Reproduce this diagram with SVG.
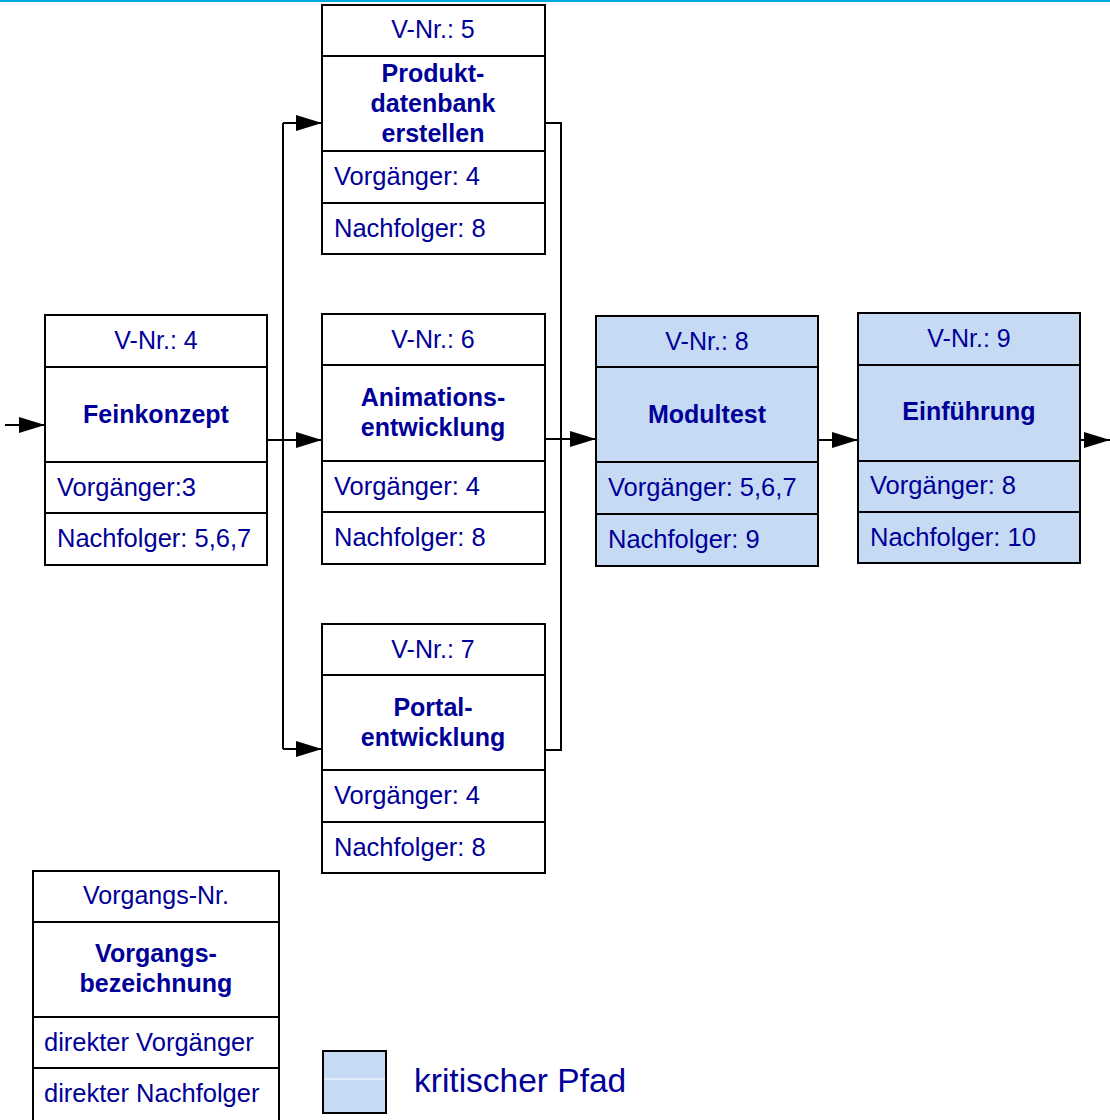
<svg xmlns="http://www.w3.org/2000/svg" width="1110" height="1120" viewBox="0 0 1110 1120">
  <style>
    .box { fill: #ffffff; stroke: #000000; stroke-width: 2; }
    .crit { fill: #c6daf4; stroke: #000000; stroke-width: 2; }
    .sep { stroke: #000000; stroke-width: 2; }
    .hd { font-family: "Liberation Sans", Arial, sans-serif; font-size: 25px; fill: #000099; text-anchor: middle; }
    .ttl { font-family: "Liberation Sans", Arial, sans-serif; font-size: 25px; font-weight: bold; fill: #000099; text-anchor: middle; }
    .row { font-family: "Liberation Sans", Arial, sans-serif; font-size: 25.5px; fill: #000099; }
    .wire { fill: none; stroke: #000000; stroke-width: 2; }
    .arr { fill: none; stroke: #000000; stroke-width: 2; marker-end: url(#tip); }
  </style>
  <defs>
    <marker id="tip" markerUnits="userSpaceOnUse" markerWidth="26" markerHeight="16" refX="26" refY="8" orient="auto">
      <path d="M0,0 L26,8 L0,16 Z" fill="#000000"/>
    </marker>
  </defs>

  <!-- top rule -->
  <line x1="0" y1="1" x2="1110" y2="1" stroke="#00a8e0" stroke-width="2"/>

  <!-- connectors -->
  <g id="connectors">
    <line class="arr" x1="5" y1="425" x2="45" y2="425"/>
    <line class="wire" x1="267" y1="440" x2="283" y2="440"/>
    <line class="wire" x1="283" y1="123" x2="283" y2="749"/>
    <line class="arr" x1="283" y1="123" x2="322" y2="123"/>
    <line class="arr" x1="283" y1="440" x2="322" y2="440"/>
    <line class="arr" x1="283" y1="749" x2="322" y2="749"/>
    <polyline class="wire" points="545,123 561,123 561,750 545,750"/>
    <line class="arr" x1="545" y1="439" x2="596" y2="439"/>
    <line class="arr" x1="818" y1="440" x2="858" y2="440"/>
    <line class="arr" x1="1080" y1="440" x2="1110" y2="440"/>
  </g>

  <!-- V-Nr. 4 -->
  <g id="node4">
    <rect class="box" x="45" y="315" width="222" height="250"/>
    <line class="sep" x1="45" y1="367" x2="267" y2="367"/>
    <line class="sep" x1="45" y1="462" x2="267" y2="462"/>
    <line class="sep" x1="45" y1="513" x2="267" y2="513"/>
    <text class="hd" x="156" y="349">V-Nr.: 4</text>
    <text class="ttl" x="156" y="423">Feinkonzept</text>
    <text class="row" x="57" y="496">Vorgänger:3</text>
    <text class="row" x="57" y="547">Nachfolger: 5,6,7</text>
  </g>

  <!-- V-Nr. 5 -->
  <g id="node5">
    <rect class="box" x="322" y="5" width="223" height="249"/>
    <line class="sep" x1="322" y1="56" x2="545" y2="56"/>
    <line class="sep" x1="322" y1="151" x2="545" y2="151"/>
    <line class="sep" x1="322" y1="203" x2="545" y2="203"/>
    <text class="hd" x="433" y="38">V-Nr.: 5</text>
    <text class="ttl" x="433" y="82">Produkt-</text>
    <text class="ttl" x="433" y="112">datenbank</text>
    <text class="ttl" x="433" y="142">erstellen</text>
    <text class="row" x="334" y="185">Vorgänger: 4</text>
    <text class="row" x="334" y="237">Nachfolger: 8</text>
  </g>

  <!-- V-Nr. 6 -->
  <g id="node6">
    <rect class="box" x="322" y="314" width="223" height="250"/>
    <line class="sep" x1="322" y1="365" x2="545" y2="365"/>
    <line class="sep" x1="322" y1="461" x2="545" y2="461"/>
    <line class="sep" x1="322" y1="512" x2="545" y2="512"/>
    <text class="hd" x="433" y="348">V-Nr.: 6</text>
    <text class="ttl" x="433" y="406">Animations-</text>
    <text class="ttl" x="433" y="436">entwicklung</text>
    <text class="row" x="334" y="495">Vorgänger: 4</text>
    <text class="row" x="334" y="546">Nachfolger: 8</text>
  </g>

  <!-- V-Nr. 7 -->
  <g id="node7">
    <rect class="box" x="322" y="624" width="223" height="249"/>
    <line class="sep" x1="322" y1="675" x2="545" y2="675"/>
    <line class="sep" x1="322" y1="770" x2="545" y2="770"/>
    <line class="sep" x1="322" y1="822" x2="545" y2="822"/>
    <text class="hd" x="433" y="658">V-Nr.: 7</text>
    <text class="ttl" x="433" y="716">Portal-</text>
    <text class="ttl" x="433" y="746">entwicklung</text>
    <text class="row" x="334" y="804">Vorgänger: 4</text>
    <text class="row" x="334" y="856">Nachfolger: 8</text>
  </g>

  <!-- V-Nr. 8 (critical) -->
  <g id="node8">
    <rect class="crit" x="596" y="316" width="222" height="250"/>
    <line class="sep" x1="596" y1="367" x2="818" y2="367"/>
    <line class="sep" x1="596" y1="462" x2="818" y2="462"/>
    <line class="sep" x1="596" y1="514" x2="818" y2="514"/>
    <text class="hd" x="707" y="350">V-Nr.: 8</text>
    <text class="ttl" x="707" y="423">Modultest</text>
    <text class="row" x="608" y="496">Vorgänger: 5,6,7</text>
    <text class="row" x="608" y="548">Nachfolger: 9</text>
  </g>

  <!-- V-Nr. 9 (critical) -->
  <g id="node9">
    <rect class="crit" x="858" y="313" width="222" height="250"/>
    <line class="sep" x1="858" y1="365" x2="1080" y2="365"/>
    <line class="sep" x1="858" y1="461" x2="1080" y2="461"/>
    <line class="sep" x1="858" y1="512" x2="1080" y2="512"/>
    <text class="hd" x="969" y="347">V-Nr.: 9</text>
    <text class="ttl" x="969" y="420">Einführung</text>
    <text class="row" x="870" y="494">Vorgänger: 8</text>
    <text class="row" x="870" y="546">Nachfolger: 10</text>
  </g>

  <!-- legend: node layout -->
  <g id="legend-node">
    <rect class="box" x="33" y="871" width="246" height="250"/>
    <line class="sep" x1="33" y1="922" x2="279" y2="922"/>
    <line class="sep" x1="33" y1="1017" x2="279" y2="1017"/>
    <line class="sep" x1="33" y1="1068" x2="279" y2="1068"/>
    <text class="hd" x="156" y="904">Vorgangs-Nr.</text>
    <text class="ttl" x="156" y="962">Vorgangs-</text>
    <text class="ttl" x="156" y="992">bezeichnung</text>
    <text class="row" x="44" y="1051">direkter Vorgänger</text>
    <text class="row" x="44" y="1102">direkter Nachfolger</text>
  </g>

  <!-- legend: critical path -->
  <g id="legend-critical">
    <rect class="crit" x="323" y="1051" width="63" height="62"/>
    <line x1="324" y1="1079" x2="385" y2="1079" stroke="#ffffff" stroke-width="1"/>
    <text class="row" x="414" y="1092" style="font-size:33.5px">kritischer Pfad</text>
  </g>
</svg>
